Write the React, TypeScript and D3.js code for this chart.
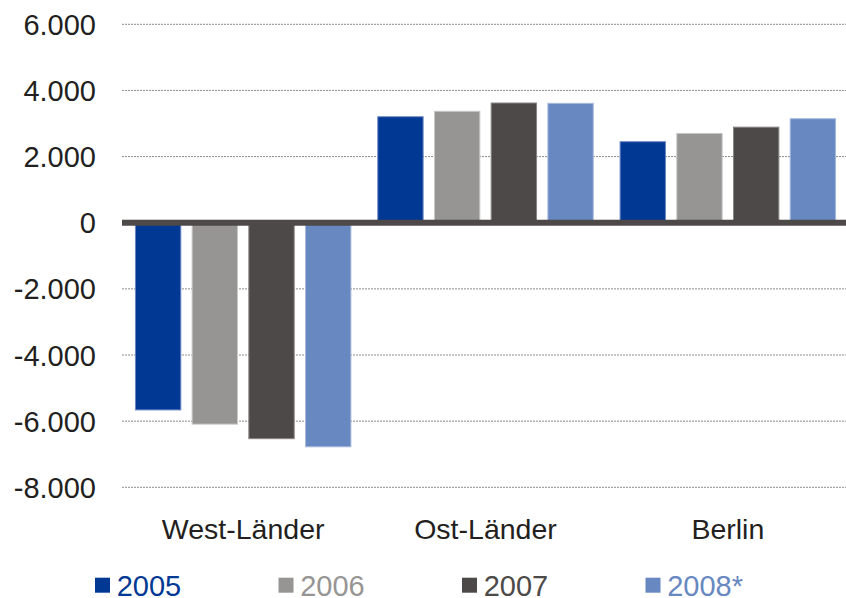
import React from "react";
import * as d3 from "d3";

const categories = ["West-Länder", "Ost-Länder", "Berlin"];
const series = ["2005", "2006", "2007", "2008*"];
const values: Record<string, number[]> = {
  "2005": [-5660, 3205, 2450],
  "2006": [-6090, 3370, 2700],
  "2007": [-6530, 3620, 2890],
  "2008*": [-6775, 3610, 3145],
};
const yTicks = [6000, 4000, 2000, 0, -2000, -4000, -6000, -8000];
const colors = ["#003893", "#969594", "#4d4948", "#6788c0"];
const strokes = ["#6d86c4", "#c8c8c6", "#8a8685", "#a6badd"];

const W = 846;
const H = 598;
const left = 122;
const right = 849;
const yTop = 24.3;
const yBottom = 487.3;

const fmt = (v: number) => {
  if (v === 0) return "0";
  const s = Math.abs(v).toString();
  const t = s.slice(0, s.length - 3) + "." + s.slice(s.length - 3);
  return (v < 0 ? "-" : "") + t;
};

export default function App() {
  const x0 = d3.scaleBand<string>().domain(categories).range([left, right]).paddingInner(0).paddingOuter(0);
  const x1 = d3
    .scaleBand<string>()
    .domain(series)
    .range([0, x0.bandwidth()])
    .paddingInner(0.2)
    .paddingOuter(0.237);
  const y = d3.scaleLinear().domain([-8000, 6000]).range([yBottom, yTop]);
  const legendX = d3.scaleLinear().domain([0, 1]).range([95, 278.5]);
  const font = "'Liberation Sans', Arial, Helvetica, sans-serif";

  return (
    <svg width={W} height={H} style={{ position: "absolute", left: 0, top: 0, background: "#fff" }} fontFamily={font}>
      {yTicks.map((t) => (
        <g key={t}>
          {t !== 0 && (
            <line x1={left} x2={W} y1={y(t)} y2={y(t)} stroke="#8c8c8c" strokeWidth={1} strokeDasharray="2 1" />
          )}
          <text x={96} y={y(t) + 10.5} textAnchor="end" fontSize={29} fill="#231f20">
            {fmt(t)}
          </text>
        </g>
      ))}
      {categories.map((c, ci) => (
        <g key={c}>
          {series.map((s, si) => {
            const v = values[s][ci];
            const bx = (x0(c) as number) + (x1(s) as number);
            const y0 = y(0);
            const yv = y(v);
            return (
              <rect
                key={s}
                x={bx}
                y={Math.min(y0, yv)}
                width={x1.bandwidth()}
                height={Math.abs(yv - y0)}
                fill={colors[si]}
                stroke={strokes[si]}
                strokeWidth={1}
              />
            );
          })}
          <text
            x={(x0(c) as number) + x0.bandwidth() / 2}
            y={539.3}
            textAnchor="middle"
            fontSize={28.5}
            fill="#231f20"
          >
            {c}
          </text>
        </g>
      ))}
      <rect x={left} y={y(0) - 3} width={W - left} height={6} fill="#4d4948" />
      {series.map((s, si) => {
        const lx = legendX(si);
        return (
          <g key={s}>
            <rect x={lx} y={577.7} width={15} height={15} fill={colors[si]} />
            <text x={lx + 21.7} y={596} fontSize={29} fill={colors[si]}>
              {s}
            </text>
          </g>
        );
      })}
    </svg>
  );
}
